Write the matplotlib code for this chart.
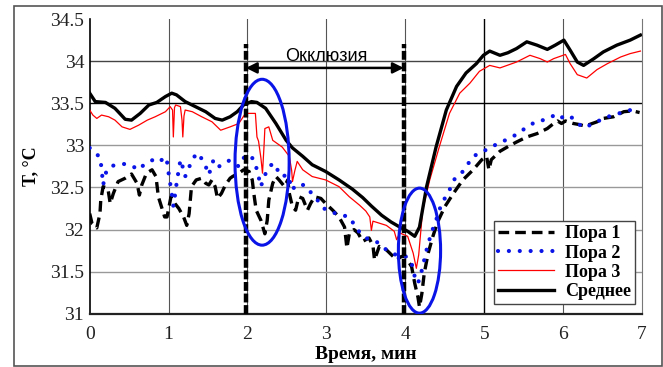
import numpy as np
import matplotlib
matplotlib.use("Agg")
import matplotlib.pyplot as plt
from matplotlib.patches import Ellipse, Rectangle

plt.rcParams['font.family'] = ['Liberation Serif', 'DejaVu Serif']

# --- data (time in min, temperature in °C) ---
t_mean = [0.00, 0.07, 0.20, 0.32, 0.45, 0.53, 0.64, 0.75, 0.85, 0.96, 1.04, 1.10, 1.21, 1.34,
          1.47, 1.59, 1.68, 1.78, 1.87, 1.95, 2.05, 2.12, 2.23, 2.36, 2.49, 2.57, 2.70, 2.82,
          2.99, 3.16, 3.33, 3.46, 3.57, 3.70, 3.82, 3.93, 4.03, 4.12, 4.18, 4.27, 4.39, 4.52,
          4.65, 4.77, 4.90, 4.99, 5.07, 5.20, 5.30, 5.41, 5.54, 5.67, 5.80, 5.90, 6.01, 6.09,
          6.18, 6.26, 6.39, 6.51, 6.68, 6.85, 6.98]
y_mean = [33.62, 33.52, 33.51, 33.44, 33.31, 33.30, 33.38, 33.48, 33.51, 33.58, 33.62, 33.60,
          33.52, 33.46, 33.40, 33.32, 33.30, 33.34, 33.40, 33.48, 33.52, 33.51, 33.44, 33.26,
          33.06, 32.97, 32.87, 32.77, 32.69, 32.59, 32.48, 32.38, 32.28, 32.17, 32.09, 32.03,
          31.98, 31.92, 32.03, 32.51, 32.98, 33.42, 33.70, 33.86, 33.97, 34.07, 34.12, 34.07,
          34.10, 34.15, 34.23, 34.19, 34.14, 34.19, 34.25, 34.13, 33.99, 33.95, 34.03, 34.11,
          34.19, 34.25, 34.31]

t_p3 = [0.00, 0.04, 0.09, 0.15, 0.24, 0.32, 0.41, 0.51, 0.62, 0.73, 0.83, 0.96, 1.02, 1.05,
        1.06, 1.075, 1.09, 1.15, 1.17, 1.18, 1.195, 1.21, 1.30, 1.42, 1.55, 1.66, 1.72, 1.78,
        1.89, 1.96, 1.98, 2.10, 2.12, 2.14, 2.17, 2.19, 2.21, 2.22, 2.27, 2.32, 2.44, 2.53,
        2.56, 2.57, 2.60, 2.63, 2.70, 2.82, 2.99, 3.16, 3.29, 3.42, 3.50, 3.55, 3.57, 3.59,
        3.76, 3.86, 3.89, 3.93, 4.03, 4.10, 4.14, 4.17, 4.22, 4.31, 4.43, 4.56, 4.69, 4.82,
        4.94, 5.07, 5.20, 5.35, 5.41, 5.58, 5.71, 5.80, 5.88, 6.03, 6.09, 6.18, 6.30, 6.43,
        6.56, 6.73, 6.85, 6.98]
y_p3 = [33.42, 33.36, 33.32, 33.36, 33.34, 33.30, 33.22, 33.19, 33.24, 33.30, 33.34, 33.40,
        33.46, 33.42, 33.10, 33.45, 33.48, 33.46, 33.30, 33.10, 33.35, 33.42, 33.40, 33.34,
        33.28, 33.18, 33.20, 33.22, 33.26, 33.36, 33.38, 33.38, 33.10, 33.05, 32.85, 32.67,
        33.00, 33.20, 33.22, 33.06, 32.98, 32.87, 32.70, 32.57, 32.70, 32.81, 32.71, 32.63,
        32.59, 32.51, 32.39, 32.29, 32.22, 32.15, 31.99, 32.10, 32.05, 31.98, 31.88, 31.96,
        31.92, 31.72, 31.54, 31.70, 32.23, 32.59, 32.98, 33.38, 33.62, 33.74, 33.88, 33.95,
        33.92, 33.97, 33.99, 34.07, 34.03, 33.99, 34.03, 34.08, 33.97, 33.84, 33.80, 33.90,
        33.97, 34.05, 34.09, 34.12]

t_p2 = [0.00, 0.07, 0.13, 0.15, 0.16, 0.17, 0.21, 0.26, 0.34, 0.45, 0.53, 0.62, 0.66, 0.75,
        0.84, 0.90, 0.97, 0.99, 1.00, 1.02, 1.04, 1.06, 1.08, 1.11, 1.13, 1.15, 1.19, 1.21,
        1.30, 1.36, 1.43, 1.47, 1.51, 1.57, 1.64, 1.70, 1.77, 1.89, 1.95, 2.02, 2.08, 2.12,
        2.15, 2.17, 2.21, 2.28, 2.33, 2.38, 2.43, 2.51, 2.57, 2.61, 2.72, 2.87, 2.97, 3.12,
        3.29, 3.40, 3.50, 3.63, 3.76, 3.88, 4.01, 4.08, 4.12, 4.16, 4.20, 4.27, 4.33, 4.39,
        4.46, 4.54, 4.63, 4.73, 4.86, 4.99, 5.13, 5.31, 5.41, 5.50, 5.58, 5.67, 5.75, 5.83,
        5.92, 5.98, 6.05, 6.13, 6.19, 6.26, 6.34, 6.43, 6.51, 6.60, 6.68, 6.77, 6.90]
y_p2 = [32.97, 32.91, 32.86, 32.73, 32.63, 32.53, 32.69, 32.75, 32.77, 32.78, 32.76, 32.71,
        32.75, 32.80, 32.85, 32.82, 32.86, 32.75, 32.67, 32.55, 32.43, 32.28, 32.40, 32.61,
        32.71, 32.83, 32.71, 32.63, 32.83, 32.91, 32.83, 32.75, 32.65, 32.83, 32.75, 32.79,
        32.82, 32.75, 32.85, 32.89, 32.83, 32.71, 32.59, 32.51, 32.63, 32.75, 32.79, 32.71,
        32.63, 32.65, 32.47, 32.53, 32.53, 32.37, 32.25, 32.19, 32.15, 31.99, 31.90, 31.86,
        31.76, 31.70, 31.68, 31.60, 31.44, 31.36, 31.48, 31.76, 31.96, 32.11, 32.31, 32.43,
        32.61, 32.69, 32.87, 32.93, 33.00, 33.08, 33.13, 33.19, 33.24, 33.29, 33.30, 33.33,
        33.37, 33.33, 33.36, 33.32, 33.26, 33.21, 33.24, 33.28, 33.32, 33.35, 33.37, 33.40,
        33.43]

t_p1 = [0.00, 0.03, 0.09, 0.13, 0.14, 0.17, 0.23, 0.26, 0.30, 0.36, 0.45, 0.53, 0.60, 0.63,
        0.66, 0.72, 0.79, 0.84, 0.87, 0.91, 0.95, 0.98, 1.03, 1.08, 1.13, 1.19, 1.23, 1.26,
        1.29, 1.35, 1.42, 1.47, 1.51, 1.55, 1.59, 1.62, 1.67, 1.72, 1.78, 1.81, 1.89, 1.95,
        2.02, 2.06, 2.08, 2.11, 2.17, 2.22, 2.25, 2.27, 2.32, 2.36, 2.40, 2.47, 2.51, 2.53,
        2.57, 2.61, 2.65, 2.70, 2.76, 2.80, 2.85, 2.93, 2.99, 3.08, 3.16, 3.23, 3.26, 3.29,
        3.35, 3.40, 3.46, 3.54, 3.59, 3.61, 3.67, 3.76, 3.89, 3.95, 4.00, 4.08, 4.12, 4.16,
        4.18, 4.21, 4.24, 4.29, 4.35, 4.41, 4.50, 4.61, 4.73, 4.86, 4.97, 5.03, 5.06, 5.09,
        5.20, 5.31, 5.41, 5.54, 5.67, 5.80, 5.88, 5.93, 5.98, 6.03, 6.13, 6.19, 6.28, 6.34,
        6.43, 6.51, 6.64, 6.77, 6.88, 6.97]
y_p1 = [32.19, 32.07, 32.02, 32.19, 32.35, 32.51, 32.49, 32.31, 32.43, 32.57, 32.61, 32.66,
        32.55, 32.41, 32.53, 32.67, 32.71, 32.63, 32.39, 32.27, 32.15, 32.15, 32.39, 32.31,
        32.25, 32.15, 32.05, 32.19, 32.51, 32.59, 32.61, 32.55, 32.53, 32.59, 32.51, 32.37,
        32.43, 32.53, 32.61, 32.63, 32.67, 32.71, 32.69, 32.59, 32.43, 32.23, 32.11, 31.95,
        32.11, 32.35, 32.55, 32.63, 32.59, 32.51, 32.59, 32.43, 32.27, 32.23, 32.39, 32.37,
        32.23, 32.31, 32.39, 32.37, 32.31, 32.23, 32.15, 32.03, 31.78, 31.95, 32.00, 31.96,
        31.86, 31.90, 31.81, 31.64, 31.80, 31.76, 31.64, 31.68, 31.68, 31.56, 31.36, 31.20,
        31.08, 31.24, 31.48, 31.72, 31.92, 32.09, 32.27, 32.43, 32.59, 32.71, 32.83, 32.87,
        32.71, 32.83, 32.93, 32.99, 33.04, 33.10, 33.14, 33.20, 33.26, 33.29, 33.26, 33.29,
        33.26, 33.25, 33.23, 33.25, 33.28, 33.32, 33.34, 33.40, 33.41, 33.39]

labels = ["Пора 1", "Пора 2", "Пора 3", "Среднее"]
occl_start, occl_end = 1.98, 3.98
x_ticks = [0, 1, 2, 3, 4, 5, 6, 7]
y_ticks = [31, 31.5, 32, 32.5, 33, 33.5, 34, 34.5]

fig = plt.figure(figsize=(6.63, 3.67), dpi=100)
ax = fig.add_axes([0.1353, 0.145, 0.833, 0.803])

# grid drawn by hand to get the mixed colours of the original
for x in x_ticks[1:-1]:
    ax.axvline(x, color='black' if x == 5 else '#555555', lw=1.0 if x == 5 else 0.8, zorder=0)
for y in y_ticks[1:-1]:
    c = 'black' if y == 33.5 else ('#444444' if y == 34 else '#999999')
    ax.axhline(y, color=c, lw=1.0, zorder=0)

ax.plot(t_p1, y_p1, color='black', lw=2.4, ls=(0, (3.2, 1.8)), label=labels[0], zorder=2)
ax.plot(t_p2, y_p2, color='#0a14e6', lw=3.0, ls=(0, (0.01, 2.6)), dash_capstyle='round',
        label=labels[1], zorder=3)
ax.plot(t_p3, y_p3, color='red', lw=0.9, label=labels[2], zorder=4)
ax.plot(t_mean, y_mean, color='black', lw=2.4, label=labels[3], zorder=5)

# occlusion markers
for xv in (occl_start, occl_end):
    ax.plot([xv, xv], [31, 34.21], color='black', lw=3.2, ls=(0, (2.0, 0.6)), zorder=6)
ax.annotate('', xy=(occl_start, 33.92), xytext=(occl_end, 33.92),
            arrowprops=dict(arrowstyle='<|-|>', color='black', lw=1.8, mutation_scale=16,
                            shrinkA=0, shrinkB=0), zorder=6)
ax.text(3.0, 34.05, 'Окклюзия', ha='center', va='center', fontsize=13,
        family=['Liberation Sans', 'DejaVu Sans'])

ax.add_patch(Ellipse((2.185, 32.80), 0.686, 1.97, fill=False, edgecolor='#0a14e6', lw=2.2, zorder=7))
ax.add_patch(Ellipse((4.18, 31.75), 0.535, 1.485, fill=False, edgecolor='#0a14e6', lw=2.2, zorder=7))

ax.set_xlim(0, 7)
ax.set_ylim(31, 34.5)
ax.set_xticks(x_ticks)
ax.set_yticks(y_ticks)
ax.set_yticklabels([f"{v:g}" for v in y_ticks])
ax.tick_params(length=0, labelsize=14, labelcolor='#222222')
ax.tick_params(axis='x', pad=9)
ax.tick_params(axis='y', pad=4)

ax.spines['top'].set_visible(False)
ax.spines['left'].set_color('black')
ax.spines['left'].set_linewidth(1.2)
ax.spines['bottom'].set_color('#222222')
ax.spines['bottom'].set_linewidth(1.6)
ax.spines['right'].set_color('#777777')

ax.set_xlabel('Время, мин', fontsize=14, fontweight='bold', labelpad=2)
ax.set_ylabel('T, °C', fontsize=13, fontweight='bold', labelpad=8)

leg = ax.legend(loc='lower right', bbox_to_anchor=(0.988, 0.032),
                prop={'weight': 'bold', 'size': 13}, handlelength=3.1, handletextpad=0.6,
                borderpad=0.25, labelspacing=0.12, fancybox=False, framealpha=1,
                edgecolor='#444444', borderaxespad=0.0)
leg.get_frame().set_linewidth(1.0)

# outer frame of the picture
fig.patches.append(Rectangle((0.021, 0.003), 0.977, 0.981, transform=fig.transFigure,
                             fill=False, edgecolor='#555555', lw=1.2))

fig.savefig('out.png', dpi=100)
